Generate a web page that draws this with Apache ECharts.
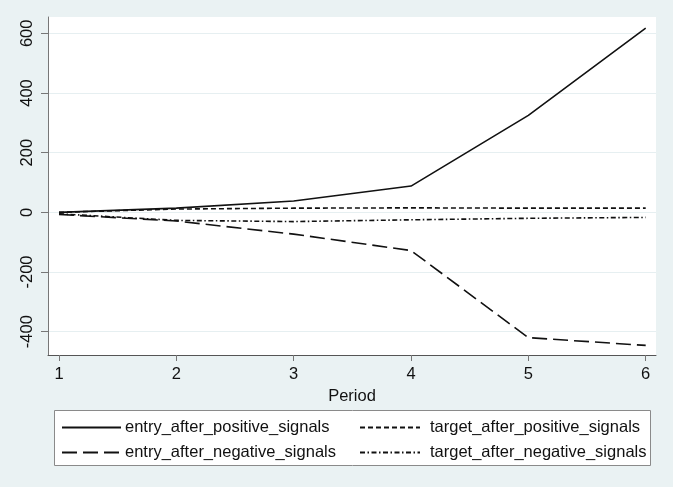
<!DOCTYPE html>
<html>
<head>
<meta charset="utf-8">
<script src="https://cdn.jsdelivr.net/npm/echarts@6/dist/echarts.min.js"></script>
<style>
  html, body { margin: 0; padding: 0; background: #eaf2f3; }
  #chart { width: 673px; height: 487px; }
</style>
</head>
<body>
<div id="chart"></div>
<script>
// Periods on the x axis
const periods = [1, 2, 3, 4, 5, 6];
// Cumulative responses by period
const entryAfterPositive = [0, 14, 38, 88, 325, 617];
const entryAfterNegative = [-7, -29, -73, -128, -420, -446];
const targetAfterPositive = [0, 11, 14, 15, 14, 14];
const targetAfterNegative = [-5, -27, -31, -25, -20, -17];
// Axis tick labels
const xTicks = [1, 2, 3, 4, 5, 6];
const yTicks = [-400, -200, 0, 200, 400, 600];

const FONT = 'Liberation Sans, Arial, sans-serif';
const FS = 16.5;

const pairs = arr => periods.map((p, i) => [p, arr[i]]);

function lineSeries(name, data, dash) {
  return {
    name: name,
    type: 'line',
    data: pairs(data),
    symbol: 'none',
    silent: true,
    lineStyle: { color: '#111', width: 1.6, type: dash },
    itemStyle: { color: '#111' }
  };
}

const legendCommon = {
  orient: 'vertical',
  top: 414,
  itemHeight: 14,
  itemGap: 8,
  selectedMode: false,
  itemStyle: { opacity: 0, borderWidth: 0 }
};

const chart = echarts.init(document.getElementById('chart'), null, { renderer: 'canvas' });
chart.setOption({
  backgroundColor: '#eaf2f3',
  animation: false,
  textStyle: { fontFamily: FONT },
  grid: {
    left: 48, right: 17, top: 17, bottom: 132,
    show: true, backgroundColor: '#ffffff', borderWidth: 0,
    containLabel: false
  },
  xAxis: {
    type: 'value',
    min: 0.9063, max: 6.0878,
    name: 'Period',
    nameLocation: 'middle',
    nameGap: 28,
    nameTextStyle: { fontFamily: FONT, fontSize: FS, color: '#111' },
    axisLine: { show: true, onZero: false, lineStyle: { color: '#555', width: 1 } },
    axisTick: { show: true, customValues: xTicks, length: 6, lineStyle: { color: '#777' } },
    axisLabel: { customValues: xTicks, fontFamily: FONT, fontSize: FS, color: '#111', margin: 11 },
    splitLine: { show: false }
  },
  yAxis: {
    type: 'value',
    min: -478.1, max: 654.6,
    axisLine: { show: true, lineStyle: { color: '#777', width: 1 } },
    axisTick: { show: true, customValues: yTicks, length: 7, lineStyle: { color: '#777' } },
    axisLabel: {
      customValues: yTicks, rotate: 90, fontFamily: FONT, fontSize: FS, color: '#111', margin: 12
    },
    splitLine: { show: true, lineStyle: { color: '#e6eff1', width: 1.2 } }
  },
  legend: [
    Object.assign({}, legendCommon, {
      left: 56,
      itemWidth: 59,
      data: ['entry_after_positive_signals', 'entry_after_negative_signals'],
      textStyle: { fontFamily: FONT, fontSize: FS, color: '#111', padding: [0, 0, 0, -1] }
    }),
    Object.assign({}, legendCommon, {
      left: 354,
      itemWidth: 60,
      data: ['target_after_positive_signals', 'target_after_negative_signals'],
      textStyle: { fontFamily: FONT, fontSize: FS, color: '#111', padding: [0, 0, 0, 5] }
    })
  ],
  graphic: [
    {
      type: 'rect',
      z: -1,
      shape: { x: 54.5, y: 410.5, width: 596, height: 55 },
      style: { fill: '#ffffff', stroke: '#8a8a8a', lineWidth: 1 }
    }
  ],
  series: [
    lineSeries('entry_after_positive_signals', entryAfterPositive, 'solid'),
    lineSeries('target_after_positive_signals', targetAfterPositive, [5, 3]),
    lineSeries('entry_after_negative_signals', entryAfterNegative, [15, 6]),
    lineSeries('target_after_negative_signals', targetAfterNegative, [5, 2.5, 1.5, 2.5])
  ]
});
</script>
</body>
</html>
